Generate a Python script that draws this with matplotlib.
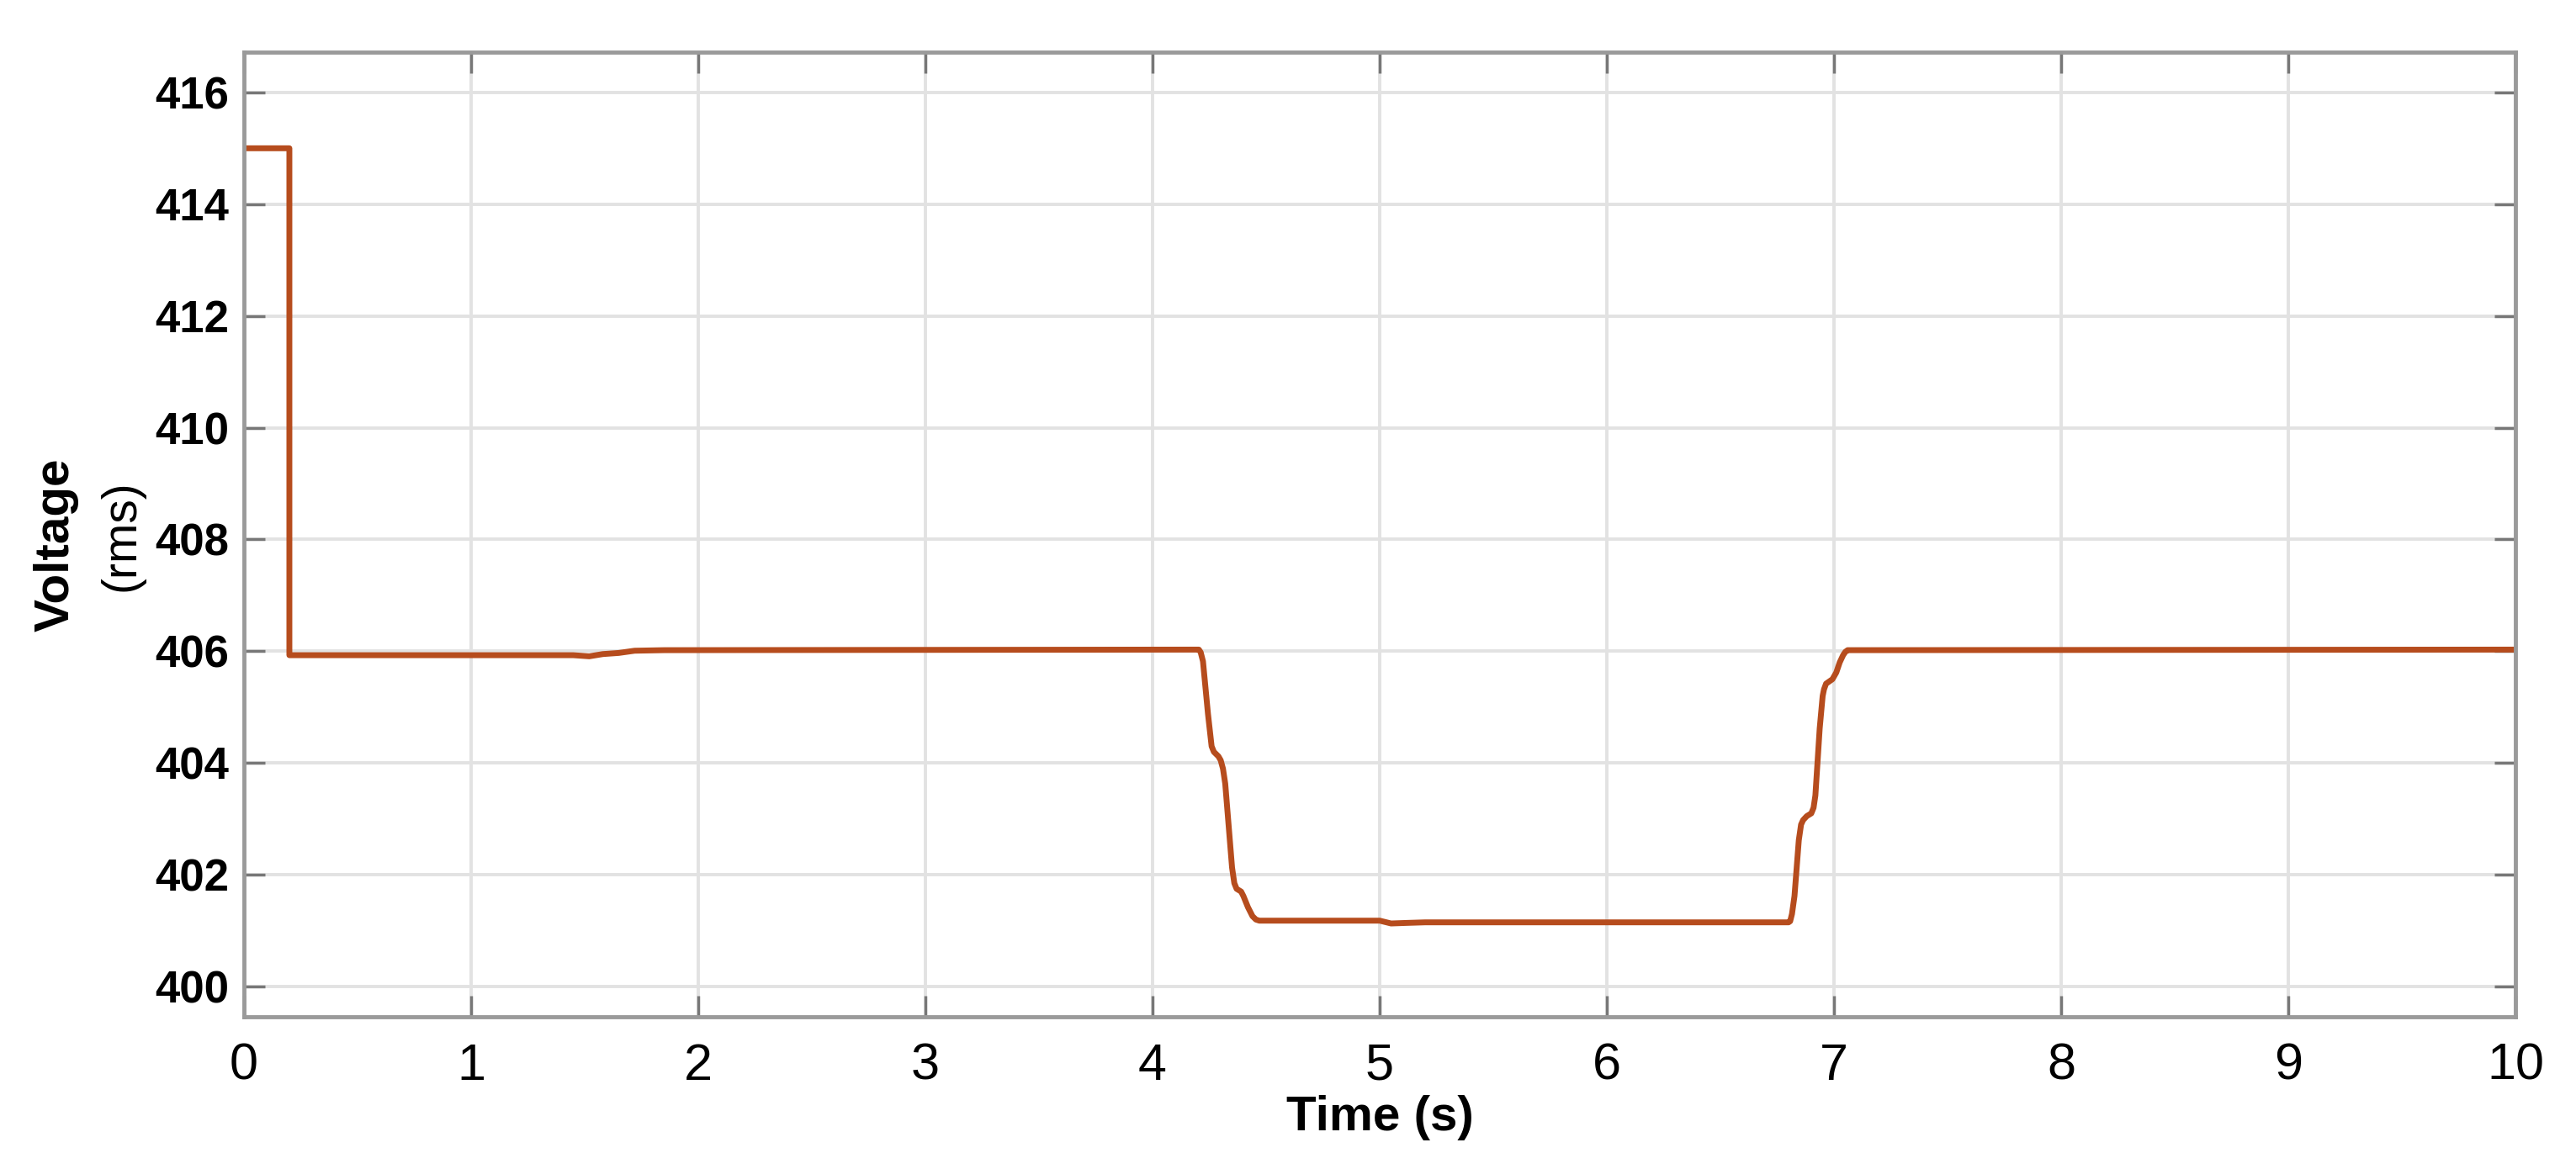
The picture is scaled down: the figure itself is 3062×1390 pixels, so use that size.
import matplotlib
matplotlib.use("Agg")
import matplotlib.pyplot as plt

# RMS voltage
time_s = [0.0, 0.2, 0.2, 1.45, 1.52, 1.58, 1.65, 1.72, 1.85, 4.19,
          4.204, 4.212, 4.222, 4.244, 4.26, 4.27, 4.28, 4.29, 4.30, 4.31, 4.32, 4.35, 4.36, 4.37,
          4.39, 4.40, 4.42, 4.44, 4.455, 4.47, 4.5,
          5.0, 5.05, 5.12, 5.2, 6.80,
          6.807, 6.815, 6.826, 6.845, 6.855, 6.864, 6.88, 6.90, 6.91, 6.918, 6.937, 6.95, 6.956,
          6.965, 6.993, 7.01, 7.025, 7.04, 7.05, 7.06,
          10.0]
voltage = [415.0, 415.0, 405.93, 405.93, 405.91, 405.95, 405.97, 406.01, 406.02, 406.03,
           406.03, 405.98, 405.82, 404.88, 404.30, 404.20, 404.16, 404.12, 404.05, 403.90, 403.63, 402.13, 401.85, 401.75,
           401.70, 401.62, 401.42, 401.26, 401.20, 401.18, 401.18,
           401.18, 401.13, 401.14, 401.15, 401.15,
           401.17, 401.30, 401.62, 402.62, 402.90, 402.98, 403.05, 403.10, 403.20, 403.42, 404.62, 405.20, 405.32,
           405.42, 405.50, 405.62, 405.80, 405.93, 405.99, 406.02,
           406.03]

xticks = list(range(0, 11))
yticks = list(range(400, 417, 2))

fig = plt.figure(figsize=(30.62, 13.9), dpi=100)
ax = fig.add_axes([0.0947, 0.1302, 0.8818, 0.8252])

ax.plot(time_s, voltage, color="#B64C1D", linewidth=5, solid_joinstyle="round")

ax.set_xlim(0, 10)
ax.set_ylim(399.46, 416.72)
ax.set_xticks(xticks)
ax.set_yticks(yticks)
ax.grid(True, color="#e2e2e2", linewidth=2.8)
ax.set_axisbelow(True)

for s in ax.spines.values():
    s.set_color("#9a9a9a")
    s.set_linewidth(3.5)

ax.tick_params(axis="both", direction="in", length=18, width=2.5, color="#777777",
               top=True, right=True)
ax.tick_params(axis="x", labelsize=44, pad=22)
ax.tick_params(axis="y", labelsize=38, pad=13)
for lab in ax.get_yticklabels():
    lab.set_fontfamily("Liberation Sans")
    lab.set_fontweight("bold")
for lab in ax.get_xticklabels():
    lab.set_fontfamily("Liberation Sans")

ax.set_xlabel("Time (s)", fontsize=42, fontweight="bold", family="Liberation Sans", labelpad=4)

# two-line y label: bold first line, lighter second line
ax.text(-0.0826, 0.489, "Voltage", transform=ax.transAxes, rotation=90,
        ha="center", va="center", fontsize=42, fontweight="bold", family="Liberation Sans")
ax.text(-0.054, 0.499, "(rms)", transform=ax.transAxes, rotation=90,
        ha="center", va="center", fontsize=41, family="Liberation Sans")

fig.savefig("out.png", dpi=100, facecolor="white")
